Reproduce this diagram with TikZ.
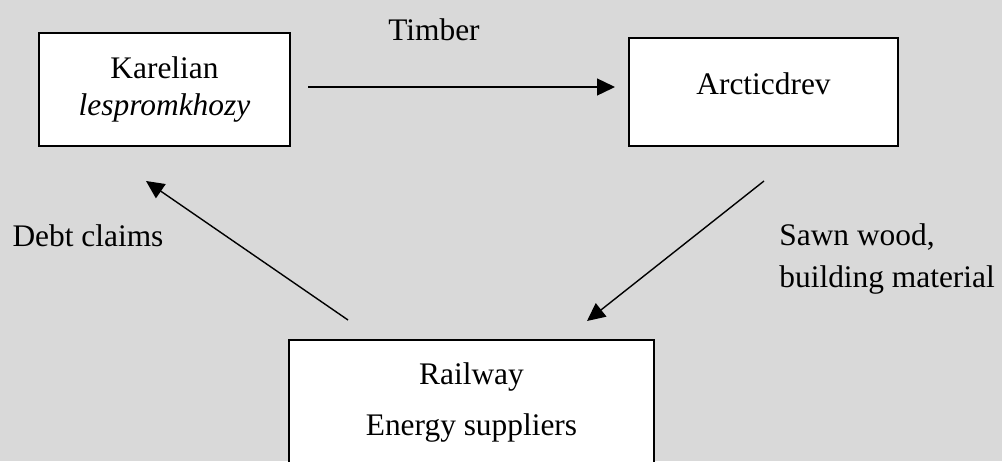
\documentclass[tikz,border=0pt]{standalone}
\usepackage{fontspec}
\setmainfont{Liberation Serif}
\usetikzlibrary{arrows.meta}
\definecolor{bggray}{RGB}{217,217,217}
\tikzset{
  firm/.style={draw, line width=0.9pt, fill=white, align=center, inner sep=0pt},
  flow/.style={-{Triangle[length=9pt,width=8.5pt]}, line width=0.7pt},
}
\begin{document}
\begin{tikzpicture}[x=0.5pt,y=-0.5pt,font=\fontsize{15.7}{18.5}\selectfont]
  \fill[bggray] (0,0) rectangle (1002,461);
  \useasboundingbox (0,0) rectangle (1002,461);
  \clip (0,0) rectangle (1002,461);
  % the three firms
  \node[firm, minimum width=125.5pt, minimum height=56.5pt] (karel) at (164.5,89.5)
    {Karelian\\\textit{lespromkhozy}};
  \node[firm, minimum width=134.5pt, minimum height=54pt, text depth=8pt] (arctic) at (763.5,92)
    {Arcticdrev};
  \node[firm, minimum width=182.5pt, minimum height=63pt, anchor=north,
        font=\fontsize{15.7}{25.5}\selectfont] (rail) at (471.5,339)
    {Railway\\Energy suppliers};
  % flows
  \coordinate (timberA) at (308,87);
  \coordinate (timberB) at (615,87);
  \coordinate (sawnA) at (764,181);
  \coordinate (sawnB) at (587,321);
  \coordinate (debtA) at (348,320);
  \coordinate (debtB) at (146,181);
  \draw[flow] (timberA) -- (timberB);
  \draw[flow] (sawnA) -- (sawnB);
  \draw[flow] (debtA) -- (debtB);
  % labels
  \node (timber) at (434,30) {Timber};
  \node (debt) at (88,236) {Debt claims};
  \node[anchor=west, align=left, inner sep=0pt, font=\fontsize{15.7}{21}\selectfont] (sawn) at (779,259)
    {Sawn wood,\\building material};
\end{tikzpicture}
\end{document}
